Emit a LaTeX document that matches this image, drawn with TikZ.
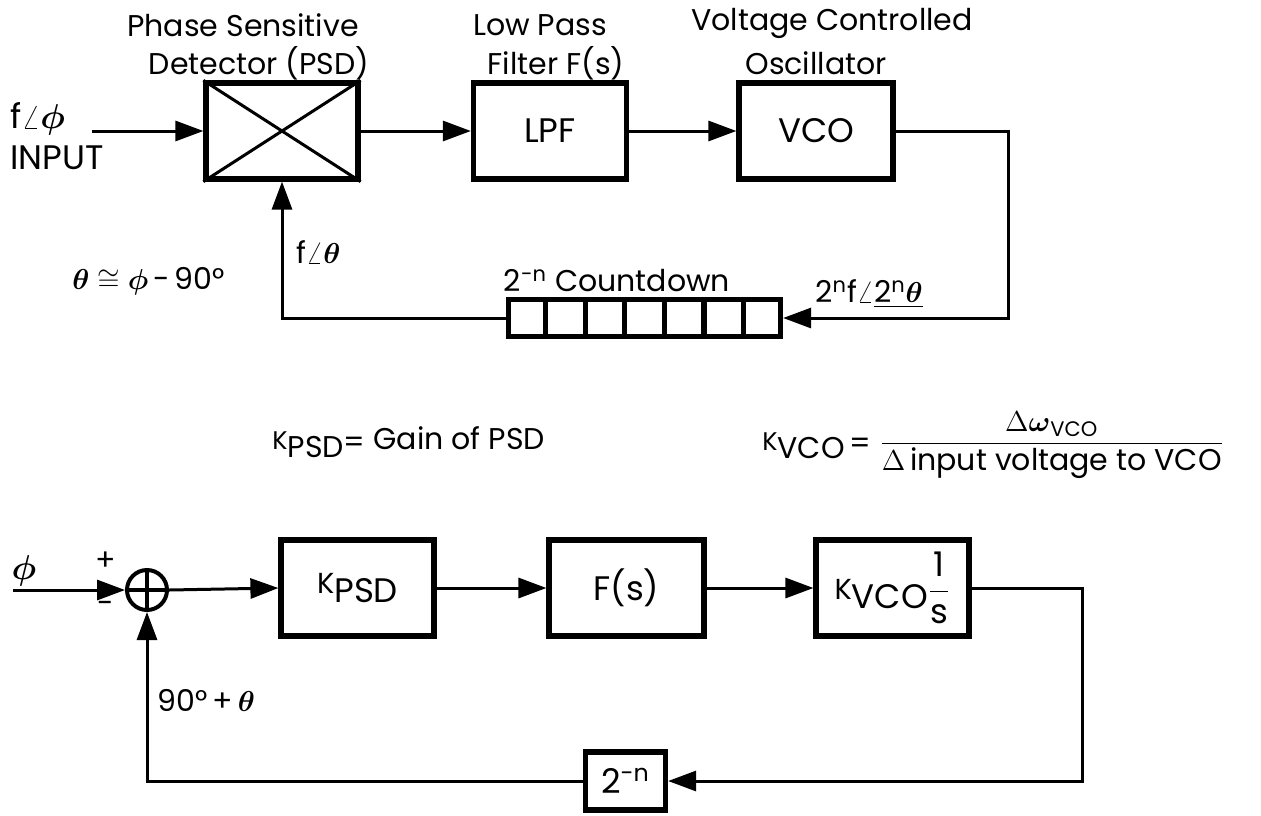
\documentclass[tikz,border=0pt]{standalone}
\usepackage{fontspec}
\setmainfont{Poppins}
\usepackage{amsmath}
\usepackage{graphicx}
\usetikzlibrary{arrows.meta,calc}
\newcommand\Ksub[1]{\scalebox{0.85}{K}\raisebox{-.45ex}{#1}}
\begin{document}
\begin{tikzpicture}[x=0.5pt,y=-0.5pt,
  blk/.style={draw,line width=2.6pt,minimum width=#1,minimum height=48pt,inner sep=0pt,font=\fontsize{17}{20}\selectfont},
  conn/.style={line width=1.5pt},
  arr/.style={conn,-{Triangle[length=14pt,width=10pt]}},
  lbl/.style={inner sep=0pt,font=\fontsize{15}{18}\selectfont},
  big/.style={inner sep=0pt,font=\fontsize{17}{20}\selectfont}
]
\useasboundingbox (0,0) rectangle (1261,815);
% ---------- top diagram ----------
\node[blk=76pt] (psd) at (282,131) {};
\draw[conn] (psd.north west) -- (psd.south east) (psd.south west) -- (psd.north east);
\node[blk=76.5pt] (lpf) at (550,131) {LPF};
\node[blk=77pt] (vco) at (816,131) {VCO};
\node[draw,line width=2.6pt,minimum width=136pt,minimum height=18.5pt,inner sep=0pt] (cd) at (644.5,318) {};
\foreach \k in {1,...,6}
  \draw[line width=2.6pt] ($(cd.north west)!\k/7!(cd.north east)$) -- ($(cd.south west)!\k/7!(cd.south east)$);

\coordinate (inp) at (92,131);
\coordinate (tr) at (1008,318);
\draw[arr] (inp) -- (psd.west);
\draw[arr] (psd.east) -- (lpf.west);
\draw[arr] (lpf.east) -- (vco.west);
\draw[arr] (vco.east) -| (tr) -- (cd.east);
\draw[arr] (cd.west) -| (psd.south);

\node[lbl] (t1a) at (243,25) {Phase Sensitive};
\node[lbl] (t1b) at (259,63) {Detector (PSD)};
\node[lbl] (t2a) at (540,25) {Low Pass};
\node[lbl] (t2b) at (556,63) {Filter F(s)};
\node[lbl] (t3a) at (832,23) {Voltage Controlled};
\node[lbl] (t3b) at (816,63) {Oscillator};
\node[big,anchor=west] (in1) at (10,119) {f$\angle\boldsymbol{\phi}$};
\node[big,anchor=west] (in2) at (10,158) {INPUT};
\node[lbl,anchor=west] (fth) at (296,252) {f$\angle\boldsymbol{\theta}$};
\node[lbl,anchor=west] (rel) at (72,281) {$\boldsymbol{\theta}\cong\boldsymbol{\phi}$\,-\,90°};
\node[lbl] (cdl) at (617,281) {2\textsuperscript{-n} Countdown};
\node[lbl,anchor=west] (vlab) at (815,294) {2\textsuperscript{n}f$\angle$\underline{2\textsuperscript{n}$\boldsymbol{\theta}$}};

% ---------- middle formulas ----------
\node[lbl,anchor=west] (kpsd) at (272,442) {\Ksub{PSD}\raisebox{-.2ex}{=} Gain of PSD};
\node[lbl,anchor=west] (kvco) at (762,445) {\Ksub{VCO}\raisebox{-.2ex}{\,=} $\dfrac{\Delta\boldsymbol{\omega}_{\text{VCO}}}{\Delta\,\text{input voltage to VCO}}$};

% ---------- bottom diagram ----------
\node[circle,draw,line width=2pt,minimum size=20pt,inner sep=0pt] (sum) at (147,590) {};
\draw[line width=2pt] (sum.north) -- (sum.south) (sum.west) -- (sum.east);
\node[blk=76.5pt] (kp) at (357.5,588) {\Ksub{PSD}};
\node[blk=77.5pt] (fs) at (626.5,588) {F(s)};
\node[blk=76.5pt] (kv) at (892.5,588) {\Ksub{VCO}$\dfrac{\text{1}}{\text{s}}$};
\node[draw,line width=2.6pt,minimum width=40pt,minimum height=29pt,inner sep=0pt,font=\fontsize{17}{20}\selectfont] (nb) at (625.5,781) {2\textsuperscript{-n}};

\coordinate (phin) at (13,590);
\coordinate (br) at (1082,781);
\draw[arr] (phin) -- (sum.west);
\draw[arr] (sum.east) -- (kp.west);
\draw[arr] (kp.east) -- (fs.west);
\draw[arr] (fs.east) -- (kv.west);
\draw[arr] (kv.east) -| (br) -- (nb.east);
\draw[arr] (nb.west) -| (sum.south);

\node[big] (phil) at (24,571) {$\boldsymbol{\phi}$};
\node[lbl] (plus) at (106,561) {+};
\node[lbl] (minus) at (106,607) {-};
\node[lbl,anchor=west] (fb) at (157,700) {90°\,+\,$\boldsymbol{\theta}$};
\end{tikzpicture}
\end{document}
